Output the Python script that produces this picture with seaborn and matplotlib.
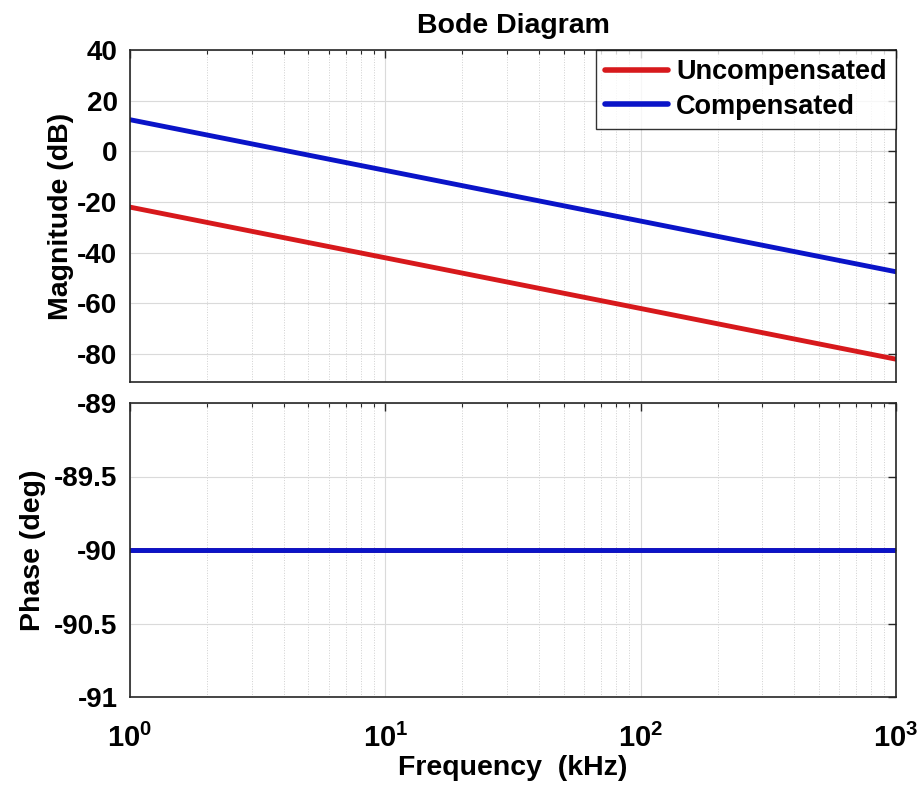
import matplotlib
matplotlib.use("Agg")
import matplotlib.pyplot as plt
import seaborn as sns
import pandas as pd
import numpy as np
from matplotlib.ticker import LogLocator, NullFormatter

sns.set_theme(style="white")
plt.rcParams['font.family'] = ['Liberation Sans', 'DejaVu Sans']
plt.rcParams['font.weight'] = 'bold'
plt.rcParams['axes.unicode_minus'] = False
plt.rcParams['mathtext.fontset'] = 'custom'
plt.rcParams['mathtext.rm'] = 'Liberation Sans:bold'
plt.rcParams['mathtext.bf'] = 'Liberation Sans:bold'
plt.rcParams['mathtext.it'] = 'Liberation Sans:bold'
plt.rcParams['text.color'] = 'black'
plt.rcParams['axes.labelcolor'] = 'black'

freq_khz = [1, 10, 100, 1000]
mag_uncomp = [-22.0, -42.0, -62.0, -82.0]
mag_comp = [12.5, -7.5, -27.5, -47.5]
phase_uncomp = [-90.0, -90.0, -90.0, -90.0]
phase_comp = [-90.0, -90.0, -90.0, -90.0]
series_names = ["Uncompensated", "Compensated"]
colors = {"Uncompensated": "#d7191c", "Compensated": "#0a14c8"}

mag_df = pd.DataFrame({
    "f": freq_khz * 2,
    "v": mag_uncomp + mag_comp,
    "s": [series_names[0]] * 4 + [series_names[1]] * 4,
})
ph_df = pd.DataFrame({
    "f": freq_khz * 2,
    "v": phase_uncomp + phase_comp,
    "s": [series_names[0]] * 4 + [series_names[1]] * 4,
})

fig = plt.figure(figsize=(9.24, 7.96), dpi=100)
ax1 = fig.add_axes([130/924, 1-382/796, (896-130)/924, (382-50)/796])
ax2 = fig.add_axes([130/924, 1-697/796, (896-130)/924, (697-403)/796])

sns.lineplot(data=mag_df, x="f", y="v", hue="s", palette=colors, ax=ax1, linewidth=3.5, legend=True)
sns.lineplot(data=ph_df, x="f", y="v", hue="s", palette=colors, ax=ax2, linewidth=3.5, legend=False)

for ax in (ax1, ax2):
    ax.set_xscale("log")
    ax.set_xlim(1, 1000)
    ax.xaxis.set_minor_locator(LogLocator(base=10, subs=np.arange(2, 10)))
    ax.xaxis.set_minor_formatter(NullFormatter())
    ax.grid(True, which="major", color="#dadada", linewidth=0.8)
    ax.grid(True, which="minor", axis="x", color="#d0d0d0", linewidth=0.7, linestyle=":")
    ax.tick_params(which="both", direction="in", top=True, right=True, colors="#262626",
                   labelsize=20, labelcolor="black")
    ax.tick_params(which="major", length=6, width=1)
    ax.tick_params(which="minor", length=3, width=0.8)
    ax.tick_params(axis="y", pad=9)
    for sp in ax.spines.values():
        sp.set_color("#262626")
        sp.set_linewidth(1.2)
    ax.set_xlabel("")

ax1.set_ylim(-91, 40)
ax1.set_yticks([40, 20, 0, -20, -40, -60, -80])
ax1.set_xticklabels([])
ax1.set_ylabel("Magnitude (dB)", fontsize=20.5, fontweight="bold", labelpad=2)
ax1.set_title("Bode Diagram", fontsize=20.5, fontweight="bold", pad=12)

ax2.set_ylim(-91, -89)
ax2.set_yticks([-89, -89.5, -90, -90.5, -91])
ax2.set_yticklabels(["-89", "-89.5", "-90", "-90.5", "-91"])
ax2.set_xticks([1, 10, 100, 1000])
ax2.set_xticklabels([r"$\mathbf{10^0}$", r"$\mathbf{10^1}$", r"$\mathbf{10^2}$", r"$\mathbf{10^3}$"])
ax2.tick_params(axis="x", labelsize=21, pad=19)
ax2.set_ylabel("Phase (deg)", fontsize=20.5, fontweight="bold", labelpad=6)
ax2.set_xlabel("Frequency  (kHz)", fontsize=20.5, fontweight="bold", labelpad=2)

for ax in (ax1, ax2):
    for lab in ax.get_xticklabels() + ax.get_yticklabels():
        lab.set_fontweight("bold")

leg = ax1.legend(loc="upper right", fontsize=19.5, frameon=True, fancybox=False,
                 edgecolor="black", borderaxespad=0.0, handlelength=2.3,
                 borderpad=0.35, labelspacing=0.3, handletextpad=0.3)
leg.get_frame().set_linewidth(1.0)
for t in leg.get_texts():
    t.set_fontweight("bold")
for l in leg.get_lines():
    l.set_linewidth(4)

fig.savefig("out.png", dpi=100, facecolor="white")
